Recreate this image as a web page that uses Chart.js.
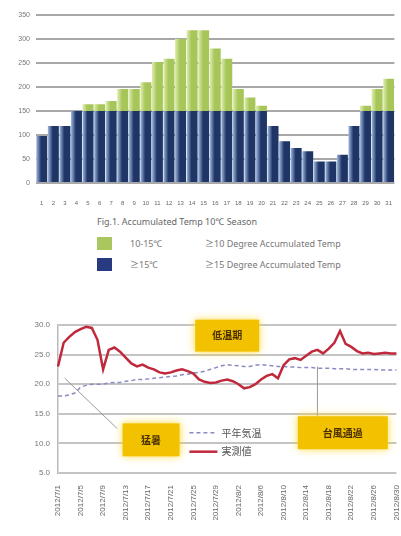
<!DOCTYPE html>
<html>
<head>
<meta charset="utf-8">
<script src="https://cdn.jsdelivr.net/npm/chart.js@4.4.1/dist/chart.umd.min.js"></script>
<style>
  body { margin: 0; width: 401px; height: 536px; overflow: hidden; background: #fff; position: relative;
         font-family: "Noto Sans", "Noto Sans CJK JP", sans-serif; }
  #topBox { position: absolute; left: 0; top: 0; width: 401px; height: 211px; }
  #bottomBox { position: absolute; left: 0; top: 300px; width: 410px; height: 236px; }
  .caption { position: absolute; left: 97px; top: 215px; font-size: 9px; color: #666; }
  .row { position: absolute; left: 97px; font-size: 9px; color: #777; height: 14px; line-height: 14px; }
  .sw { position: absolute; left: 0; top: 0; width: 15px; height: 13px; }
  .r1 { position: absolute; left: 33px; white-space: nowrap; }
  .r2 { position: absolute; left: 108px; white-space: nowrap; }
</style>
</head>
<body>
<div id="topBox"><canvas id="accum"></canvas></div>
<div class="caption" id="caption"></div>
<div class="row" style="top:237px"><div class="sw" style="background:#a9c75e"></div><span class="r1" id="l1a"></span><span class="r2" id="l1b"></span></div>
<div class="row" style="top:258px"><div class="sw" style="background:#283a80"></div><span class="r1" id="l2a"></span><span class="r2" id="l2b"></span></div>
<div id="bottomBox"><canvas id="temps"></canvas></div>

<script>
'use strict';

// ---- top chart data ----
const dayLabels = ['1','2','3','4','5','6','7','8','9','10','11','12','13','14','15','16',
                   '17','18','19','20','21','22','23','24','25','26','27','28','29','30','31'];
// part of accumulated temp up to 150 (blue) and above 150 (green)
const baseTemp  = [98,119,119,150,150,150,150,150,150,150,150,150,150,150,150,150,
                   150,150,150,150,119,87,73,66,45,45,59,119,150,150,150];
const extraTemp = [0,0,0,0,14,14,21,46,46,60,102,109,150,168,168,130,
                   109,46,28,11,0,0,0,0,0,0,0,0,11,46,67];
const accumTicks = [0, 50, 100, 150, 200, 250, 300, 350];
const captionText = 'Fig.1. Accumulated Temp 10℃ Season';
const legendRows = [
    ['10-15℃', '≥10 Degree Accumulated Temp'],
    ['≥15℃', '≥15 Degree Accumulated Temp']
];

// ---- bottom chart data ----
const dateTicks = ['2012/7/1','2012/7/5','2012/7/9','2012/7/13','2012/7/17','2012/7/21','2012/7/25','2012/7/29',
                   '2012/8/2','2012/8/6','2012/8/10','2012/8/14','2012/8/18','2012/8/22','2012/8/26','2012/8/30'];
const measured = [23.0,27.0,28.0,28.8,29.3,29.7,29.5,27.5,22.5,25.8,26.2,25.5,24.5,23.5,23.0,23.3,
                  22.8,22.5,22.0,21.8,22.0,22.3,22.5,22.2,21.8,20.8,20.4,20.2,20.3,20.6,20.8,20.5,
                  20.0,19.3,19.5,20.0,20.8,21.4,21.7,21.0,23.2,24.2,24.4,24.1,24.8,25.5,25.8,25.2,
                  26.0,27.0,29.0,26.8,26.3,25.6,25.2,25.3,25.1,25.2,25.3,25.2,25.2];
const normal   = [18.0,18.0,18.2,18.5,19.5,19.8,20.0,20.0,20.0,20.2,20.3,20.3,20.5,20.6,20.8,20.8,
                  20.9,21.0,21.1,21.2,21.3,21.4,21.6,21.7,21.9,22.0,22.2,22.5,22.8,23.1,23.3,23.2,
                  23.1,23.0,23.0,23.2,23.3,23.2,23.1,23.0,23.0,22.9,22.9,22.8,22.8,22.8,22.7,22.7,
                  22.7,22.6,22.6,22.6,22.5,22.5,22.5,22.5,22.5,22.4,22.4,22.4,22.4];
const tempTicks = [5, 10, 15, 20, 25, 30];
const seriesNames = ['平年気温', '実測値'];
const noteTexts = ['低温期', '猛暑', '台風通過'];

document.getElementById('caption').textContent = captionText;
document.getElementById('l1a').textContent = legendRows[0][0];
document.getElementById('l1b').textContent = legendRows[0][1];
document.getElementById('l2a').textContent = legendRows[1][0];
document.getElementById('l2b').textContent = legendRows[1][1];

// horizontal shading on each bar, like the office-style bars
function barFill(dark, light) {
    return function (ctx) {
        const chart = ctx.chart;
        const xs = chart.scales.x;
        if (!chart.chartArea || !xs) return dark;
        const cx = xs.getPixelForValue(ctx.dataIndex);
        const w = xs.width / dayLabels.length;
        const g = chart.ctx.createLinearGradient(cx - w / 2, 0, cx + w / 2, 0);
        g.addColorStop(0, light);
        g.addColorStop(0.45, dark);
        g.addColorStop(1, dark);
        return g;
    };
}

new Chart(document.getElementById('accum'), {
    type: 'bar',
    data: {
        labels: dayLabels,
        datasets: [{
            data: baseTemp,
            backgroundColor: barFill('#1f3566', '#a9c3ea'),
            barPercentage: 0.95,
            categoryPercentage: 1
        }, {
            data: extraTemp,
            backgroundColor: barFill('#a6c65a', '#e4f0b4'),
            barPercentage: 0.95,
            categoryPercentage: 1
        }]
    },
    options: {
        responsive: true,
        maintainAspectRatio: false,
        animation: false,
        layout: { padding: { top: 15, right: 1, left: 0, bottom: 0 } },
        plugins: { legend: { display: false }, tooltip: { enabled: false } },
        scales: {
            x: {
                stacked: true,
                grid: { display: false },
                border: { display: false },
                ticks: { color: '#666', font: { size: 6 }, autoSkip: false, maxRotation: 0, padding: 9 },
                afterFit: s => { s.height = 28; }
            },
            y: {
                stacked: true,
                min: 0,
                max: 350,
                afterBuildTicks: s => { s.ticks = accumTicks.map(v => ({ value: v })); },
                grid: { color: '#a8a8a8', lineWidth: 2, drawTicks: false },
                border: { display: false },
                ticks: { color: '#777', font: { size: 7 }, padding: 6 },
                afterFit: s => { s.width = 36; }
            }
        }
    }
});

// callout boxes and the small legend inside the line chart
const notesPlugin = {
    id: 'notes',
    afterDatasetsDraw(chart) {
        const ctx = chart.ctx;
        const xs = chart.scales.x, ys = chart.scales.y;
        const px = i => xs.getPixelForValue(i);
        const py = v => ys.getPixelForValue(v);

        ctx.save();
        // connector lines
        ctx.strokeStyle = '#999';
        ctx.lineWidth = 1;
        ctx.beginPath();
        ctx.moveTo(px(1.2), py(21));
        ctx.lineTo(px(10.5), py(12.5));
        ctx.moveTo(px(46), py(23));
        ctx.lineTo(px(46), py(14.5));
        ctx.stroke();

        const boxes = [
            { t: noteTexts[0], i: 30, v: 28.2, w: 64, h: 32 },
            { t: noteTexts[1], i: 16.5, v: 10.6, w: 57, h: 33 },
            { t: noteTexts[2], i: 50.5, v: 11.8, w: 90, h: 33 }
        ];
        boxes.forEach(b => {
            const cx = px(b.i), cy = py(b.v);
            ctx.save();
            ctx.shadowColor = 'rgba(255,215,40,0.9)';
            ctx.shadowBlur = 8;
            ctx.fillStyle = '#f2c200';
            ctx.fillRect(cx - b.w / 2, cy - b.h / 2, b.w, b.h);
            ctx.restore();
            ctx.fillStyle = '#4a3000';
            ctx.font = 'bold 10px "Noto Sans CJK JP"';
            ctx.textAlign = 'center';
            ctx.textBaseline = 'middle';
            ctx.fillText(b.t, cx, cy);
        });

        // legend
        const lx = px(23.3);
        const y1 = py(11.8), y2 = py(8.6);
        ctx.lineWidth = 1.5;
        ctx.strokeStyle = '#8a8ac4';
        ctx.setLineDash([4, 3]);
        ctx.beginPath(); ctx.moveTo(lx, y1); ctx.lineTo(lx + 28, y1); ctx.stroke();
        ctx.setLineDash([]);
        ctx.lineWidth = 2.5;
        ctx.strokeStyle = '#c0283c';
        ctx.beginPath(); ctx.moveTo(lx, y2); ctx.lineTo(lx + 28, y2); ctx.stroke();
        ctx.fillStyle = '#555';
        ctx.font = '10px "Noto Sans CJK JP"';
        ctx.textAlign = 'left';
        ctx.textBaseline = 'middle';
        ctx.fillText(seriesNames[0], lx + 32, y1);
        ctx.fillText(seriesNames[1], lx + 32, y2);
        ctx.restore();
    }
};

const dayCats = measured.map((_, i) => (i % 4 === 0 ? dateTicks[i / 4] : ''));

new Chart(document.getElementById('temps'), {
    type: 'line',
    data: {
        labels: dayCats,
        datasets: [{
            label: seriesNames[1],
            data: measured,
            borderColor: '#c0283c',
            borderWidth: 2.5,
            pointRadius: 0,
            tension: 0
        }, {
            label: seriesNames[0],
            data: normal,
            borderColor: '#8a8ac4',
            borderWidth: 1.5,
            borderDash: [4, 3],
            pointRadius: 0,
            tension: 0
        }]
    },
    options: {
        responsive: true,
        maintainAspectRatio: false,
        animation: false,
        layout: { padding: { top: 25, right: 7, left: 0, bottom: 0 } },
        plugins: { legend: { display: false }, tooltip: { enabled: false } },
        scales: {
            x: {
                grid: { display: false },
                border: { display: false },
                ticks: { color: '#666', font: { size: 8 }, autoSkip: false, minRotation: 90, maxRotation: 90, padding: 4 },
                afterFit: s => { s.height = 63; }
            },
            y: {
                min: 5,
                max: 30,
                afterBuildTicks: s => { s.ticks = tempTicks.map(v => ({ value: v })); },
                grid: { color: '#c4c4c4', lineWidth: 2, drawTicks: false },
                border: { display: true, color: '#bbb', width: 1.5 },
                ticks: { color: '#777', font: { size: 8 }, padding: 8, callback: v => v.toFixed(1) },
                afterFit: s => { s.width = 58; }
            }
        }
    },
    plugins: [notesPlugin]
});
</script>
</body>
</html>
